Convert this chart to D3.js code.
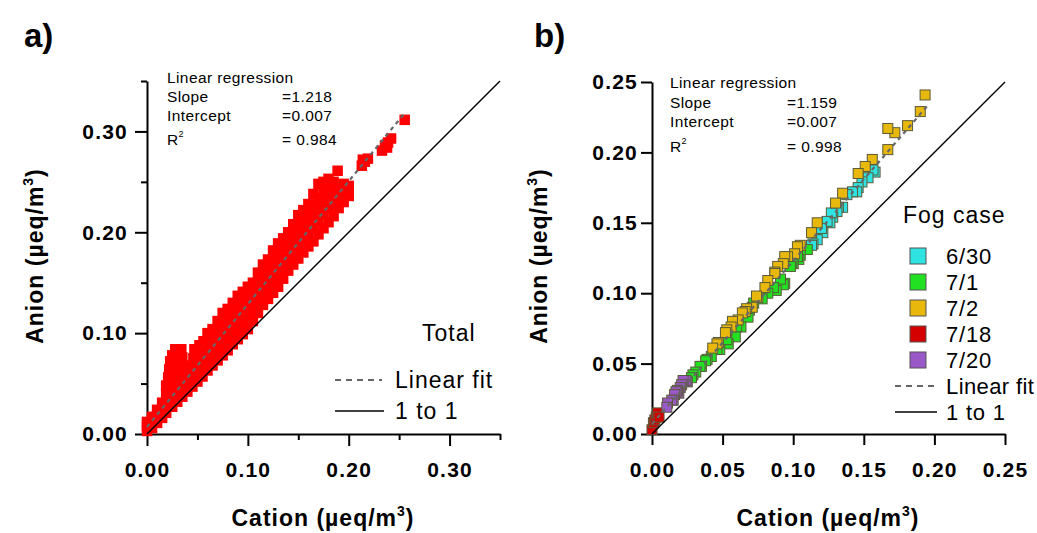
<!DOCTYPE html>
<html>
<head>
<meta charset="utf-8">
<script src="https://cdn.jsdelivr.net/npm/d3@7"></script>
<style>
  body { margin: 0; background: #fff; }
  svg  { display: block; font-family: "Liberation Sans", Arial, sans-serif; }
</style>
</head>
<body>
<script>
/* global d3 */

// ---- data ----
var totalPoints = [
  [0.000,0.003],[0.000,0.008],[0.000,0.012],
  [0.005,0.006],[0.005,0.012],[0.005,0.017],
  [0.010,0.011],[0.010,0.018],[0.010,0.024],
  [0.015,0.016],[0.015,0.024],[0.015,0.031],
  [0.019,0.021],[0.019,0.030],[0.019,0.040],[0.019,0.048],
  [0.021,0.056],[0.022,0.064],[0.023,0.072],[0.025,0.078],[0.028,0.084],[0.034,0.084],
  [0.025,0.027],[0.025,0.036],[0.025,0.046],[0.026,0.056],[0.027,0.066],
  [0.030,0.032],[0.030,0.042],[0.030,0.052],[0.031,0.062],[0.031,0.072],
  [0.035,0.037],[0.035,0.047],[0.035,0.057],[0.035,0.066],[0.035,0.076],
  [0.040,0.042],[0.040,0.051],[0.040,0.060],[0.040,0.068],
  [0.045,0.047],[0.045,0.056],[0.045,0.065],[0.046,0.075],[0.047,0.084],
  [0.050,0.052],[0.050,0.061],[0.050,0.070],[0.050,0.079],[0.052,0.088],
  [0.055,0.057],[0.055,0.066],[0.055,0.075],[0.055,0.084],[0.056,0.092],
  [0.060,0.063],[0.060,0.072],[0.060,0.081],[0.060,0.090],[0.060,0.100],
  [0.065,0.068],[0.065,0.077],[0.065,0.086],[0.065,0.095],[0.065,0.104],
  [0.070,0.073],[0.070,0.082],[0.070,0.092],[0.070,0.102],[0.070,0.112],
  [0.075,0.078],[0.075,0.088],[0.075,0.098],[0.075,0.108],[0.075,0.120],
  [0.080,0.083],[0.080,0.094],[0.080,0.104],[0.080,0.114],[0.080,0.124],
  [0.085,0.089],[0.085,0.100],[0.085,0.110],[0.085,0.120],[0.085,0.130],
  [0.090,0.094],[0.090,0.105],[0.090,0.116],[0.090,0.126],[0.090,0.137],
  [0.095,0.099],[0.095,0.110],[0.095,0.122],[0.095,0.132],[0.095,0.141],
  [0.100,0.104],[0.100,0.116],[0.100,0.128],[0.100,0.138],[0.100,0.146],
  [0.105,0.112],[0.105,0.124],[0.105,0.134],[0.105,0.144],[0.105,0.150],
  [0.110,0.120],[0.110,0.130],[0.110,0.140],[0.110,0.150],[0.110,0.160],
  [0.115,0.128],[0.115,0.137],[0.115,0.147],[0.115,0.157],[0.115,0.168],
  [0.120,0.134],[0.120,0.143],[0.120,0.153],[0.120,0.163],[0.120,0.173],
  [0.125,0.140],[0.125,0.150],[0.125,0.160],[0.125,0.170],[0.125,0.182],
  [0.130,0.146],[0.130,0.156],[0.130,0.166],[0.130,0.176],[0.130,0.189],
  [0.135,0.154],[0.135,0.164],[0.135,0.174],[0.135,0.184],[0.135,0.194],
  [0.140,0.162],[0.140,0.172],[0.140,0.184],[0.140,0.194],[0.140,0.200],
  [0.145,0.168],[0.145,0.180],[0.145,0.190],[0.145,0.200],[0.145,0.208],
  [0.150,0.174],[0.150,0.186],[0.150,0.196],[0.150,0.206],[0.150,0.217],
  [0.155,0.180],[0.155,0.191],[0.155,0.201],[0.155,0.211],[0.155,0.222],
  [0.160,0.186],[0.160,0.198],[0.160,0.208],[0.160,0.218],[0.160,0.228],
  [0.165,0.191],[0.165,0.204],[0.165,0.216],[0.165,0.226],[0.165,0.238],
  [0.170,0.198],[0.170,0.211],[0.170,0.223],[0.170,0.233],[0.170,0.248],
  [0.175,0.204],[0.175,0.218],[0.175,0.230],[0.175,0.240],[0.175,0.250],
  [0.180,0.210],[0.180,0.224],[0.180,0.236],[0.180,0.246],[0.180,0.253],
  [0.185,0.216],[0.185,0.228],[0.185,0.240],[0.185,0.250],
  [0.189,0.261],
  [0.190,0.224],[0.190,0.234],[0.190,0.244],
  [0.195,0.230],[0.195,0.240],[0.195,0.248],
  [0.200,0.236],[0.200,0.246],
  [0.213,0.266],[0.214,0.272],[0.216,0.270],[0.219,0.273],
  [0.233,0.281],[0.236,0.286],[0.238,0.284],[0.239,0.289],[0.242,0.293],
  [0.2555,0.3115]
];

var fogCases   = ["6/30", "7/1", "7/2", "7/18", "7/20"];
var caseColors = ["#2fe3e3", "#22e022", "#e8b80c", "#d40000", "#9a58c8"];

var case630 = [
  [0.158,0.186],[0.1565,0.1875],[0.153,0.182],[0.1487,0.179],[0.146,0.175],[0.145,0.172],
  [0.142,0.172],[0.138,0.170],[0.135,0.161],[0.132,0.161],[0.131,0.158],[0.128,0.154],
  [0.127,0.157],[0.126,0.150],[0.124,0.151],[0.121,0.143],[0.120,0.146],[0.117,0.138],
  [0.114,0.135],[0.113,0.134]
];
var case71 = [
  [0.110,0.131],[0.105,0.127],[0.104,0.124],[0.103,0.126],[0.100,0.121],[0.099,0.121],
  [0.098,0.119],[0.094,0.107],[0.093,0.106],[0.091,0.110],[0.088,0.102],[0.086,0.104],
  [0.082,0.100],[0.078,0.096],[0.072,0.093],[0.069,0.088],[0.068,0.083],[0.063,0.076],
  [0.060,0.076],[0.059,0.069],[0.054,0.064],[0.053,0.067],[0.048,0.060],[0.046,0.060],
  [0.042,0.055],[0.039,0.053],[0.038,0.052],[0.035,0.048],[0.034,0.048],[0.031,0.044],
  [0.029,0.042],[0.028,0.040]
];
var case72 = [
  [0.1934,0.2408],[0.190,0.229],[0.181,0.219],[0.172,0.214],[0.167,0.217],[0.167,0.202],
  [0.156,0.195],[0.151,0.190],[0.146,0.185],[0.135,0.171],[0.130,0.164],[0.117,0.150],
  [0.113,0.143],[0.105,0.134],[0.103,0.133],[0.101,0.128],[0.096,0.126],[0.094,0.126],
  [0.093,0.121],[0.089,0.119],[0.087,0.115],[0.087,0.114],[0.082,0.109],[0.080,0.104],
  [0.075,0.097],[0.074,0.098],[0.071,0.090],[0.067,0.089],[0.066,0.087],[0.064,0.086],
  [0.061,0.081],[0.057,0.080],[0.056,0.076],[0.053,0.074],[0.052,0.072],[0.047,0.065],
  [0.046,0.064],[0.043,0.061]
];
var case718 = [
  [0.000,0.003],[0.001,0.008],[0.002,0.010],[0.003,0.012],[0.004,0.015],[0.005,0.012]
];
var case720 = [
  [0.025,0.037],[0.024,0.038],[0.022,0.038],[0.021,0.035],[0.020,0.033],[0.019,0.029],
  [0.018,0.031],[0.017,0.030],[0.016,0.028],[0.015,0.024],[0.014,0.024],[0.011,0.022],
  [0.0105,0.019]
];
var caseData = [case630, case71, case72, case718, case720];

var fitA = { slope: 1.218, intercept: 0.007, r2: "0.984", xmax: 0.256 };
var fitB = { slope: 1.159, intercept: 0.007, r2: "0.998", xmax: 0.196 };

var ticksA      = [0.00, 0.10, 0.20, 0.30];
var minorTicksA = [0.05, 0.15, 0.25, 0.35];
var ticksB      = [0.00, 0.05, 0.10, 0.15, 0.20, 0.25];

// ---- layout ----
var svg = d3.select("body").append("svg")
    .attr("width", 1037)
    .attr("height", 533);

var xA = d3.scaleLinear().domain([0, 0.35]).range([147, 500]);
var yA = d3.scaleLinear().domain([0, 0.35]).range([434, 81]);
var xB = d3.scaleLinear().domain([0, 0.25]).range([652, 1005]);
var yB = d3.scaleLinear().domain([0, 0.25]).range([434, 82]);

var fmt = d3.format(".2f");

var styleAxis = (g) => {
    g.selectAll("path.domain").attr("stroke", "#000").attr("stroke-width", 2);
    g.selectAll(".tick line").attr("stroke", "#000").attr("stroke-width", 2);
    g.selectAll(".tick text")
        .attr("fill", "#000")
        .style("font-family", "\"Liberation Sans\", Arial, sans-serif")
        .style("font-size", "21px")
        .style("font-weight", "bold")
        .style("letter-spacing", "1.2px");
};

var drawAxes = (xs, ys, major, minor, tick, ytPad, origin) => {
    var gx = svg.append("g").attr("transform", "translate(0," + origin[1] + ")")
        .call(d3.axisBottom(xs).tickValues(major).tickSize(tick).tickSizeOuter(0).tickFormat(fmt));
    gx.selectAll(".tick text").attr("y", 43).attr("dy", 0);
    styleAxis(gx);
    var gy = svg.append("g").attr("transform", "translate(" + origin[0] + ",0)")
        .call(d3.axisLeft(ys).tickValues(major).tickSize(tick).tickPadding(ytPad).tickSizeOuter(0).tickFormat(fmt));
    styleAxis(gy);
    if (minor) {
        var mx = svg.append("g").attr("transform", "translate(0," + origin[1] + ")")
            .call(d3.axisBottom(xs).tickValues(minor).tickSize(6).tickFormat(""));
        mx.select("path.domain").remove();
        styleAxis(mx);
        var my = svg.append("g").attr("transform", "translate(" + origin[0] + ",0)")
            .call(d3.axisLeft(ys).tickValues(minor).tickSize(6).tickFormat(""));
        my.select("path.domain").remove();
        styleAxis(my);
    }
};

drawAxes(xA, yA, ticksA, minorTicksA, 12, 7, [147, 434]);
drawAxes(xB, yB, ticksB, null, 11, 3, [652, 434]);

// ---- markers ----
var sq = 10.5;
svg.append("g").selectAll("rect")
    .data(totalPoints)
    .enter().append("rect")
    .attr("x", (d) => xA(d[0]) - sq / 2)
    .attr("y", (d) => yA(d[1]) - sq / 2)
    .attr("width", sq)
    .attr("height", sq)
    .attr("fill", "#ff0000");

var sqB = 10;
caseData.forEach((pts, k) => {
    svg.append("g").selectAll("rect")
        .data(pts)
        .enter().append("rect")
        .attr("x", (d) => xB(d[0]) - sqB / 2)
        .attr("y", (d) => yB(d[1]) - sqB / 2)
        .attr("width", sqB)
        .attr("height", sqB)
        .attr("fill", caseColors[k])
        .attr("stroke", "#5a5a3a")
        .attr("stroke-width", 1);
});

// ---- lines ----
var drawLines = (xs, ys, fit, dmax) => {
    var line = d3.line().x((d) => xs(d[0])).y((d) => ys(d[1]));
    svg.append("path")
        .attr("d", line([[0, fit.intercept], [fit.xmax, fit.intercept + fit.slope * fit.xmax]]))
        .attr("fill", "none")
        .attr("stroke", "#666")
        .attr("stroke-width", 2.2)
        .attr("stroke-dasharray", "4,4");
    svg.append("path")
        .attr("d", line([[0, 0], [dmax, dmax]]))
        .attr("fill", "none")
        .attr("stroke", "#000")
        .attr("stroke-width", 1.4);
};
drawLines(xA, yA, fitA, 0.35);
drawLines(xB, yB, fitB, 0.25);

// ---- text ----
var txt = (x, y, s, size, weight, ls) => svg.append("text")
    .attr("x", x).attr("y", y)
    .style("font-size", size + "px")
    .style("font-weight", weight || "normal")
    .style("letter-spacing", (ls || 0) + "px")
    .text(s);

txt(24, 47, "a)", 33, "bold");
txt(534, 47, "b)", 33, "bold");

var statsBlock = (x0, x1, ys, fit, slopeTxt) => {
    txt(x0, ys[0], "Linear regression", 15.5, "normal", 0.4);
    txt(x0, ys[1], "Slope", 15.5, "normal", 0.4);
    txt(x0, ys[2], "Intercept", 15.5, "normal", 0.4);
    var r = txt(x0, ys[3], "R", 15.5, "normal", 0.4);
    r.append("tspan").attr("dy", -8).style("font-size", "9px").text("2");
    txt(x1, ys[1], "=" + slopeTxt, 15.5, "normal", 0.4);
    txt(x1, ys[2], "=" + fit.intercept.toFixed(3), 15.5, "normal", 0.4);
    txt(x1, ys[3], "= " + fit.r2, 15.5, "normal", 0.4);
};
statsBlock(167, 282, [83, 102, 121, 145], fitA, "1.218");
statsBlock(670, 787, [88, 108, 127, 152], fitB, "1.159");

// axis titles
var unitTitle = (x, y, label, rot) => {
    var t = svg.append("text")
        .attr("text-anchor", "middle")
        .attr("transform", "translate(" + x + "," + y + ")" + (rot ? " rotate(-90)" : ""))
        .style("font-size", "23px")
        .style("font-weight", "bold")
        .style("letter-spacing", "1px");
    t.append("tspan").text(label + " (\u00b5eq/m");
    t.append("tspan").attr("dy", -10).style("font-size", "14px").text("3");
    t.append("tspan").attr("dy", 10).text(")");
};
unitTitle(323, 526, "Cation", false);
unitTitle(828, 526, "Cation", false);
unitTitle(43, 256, "Anion", true);
unitTitle(547, 256, "Anion", true);

// legend a
txt(422, 341, "Total", 23, "normal", 1);
svg.append("line").attr("x1", 335).attr("x2", 382).attr("y1", 380).attr("y2", 380)
    .attr("stroke", "#666").attr("stroke-width", 2).attr("stroke-dasharray", "6,5");
txt(395, 388, "Linear fit", 23, "normal", 1);
svg.append("line").attr("x1", 335).attr("x2", 384).attr("y1", 411).attr("y2", 411)
    .attr("stroke", "#000").attr("stroke-width", 1.4);
txt(395, 419, "1 to 1", 23, "normal", 1);

// legend b
txt(903, 223, "Fog case", 23, "normal", 1);
var rowY = d3.scalePoint().domain(d3.range(7)).range([256, 412]);
fogCases.forEach((c, k) => {
    svg.append("rect")
        .attr("x", 910).attr("y", rowY(k) - 8)
        .attr("width", 16).attr("height", 16)
        .attr("fill", caseColors[k])
        .attr("stroke", "#555").attr("stroke-width", 1);
    txt(946, rowY(k) + 8, c, 22, "normal", 0.8);
});
svg.append("line").attr("x1", 895).attr("x2", 937).attr("y1", rowY(5)).attr("y2", rowY(5))
    .attr("stroke", "#666").attr("stroke-width", 2).attr("stroke-dasharray", "6,5");
txt(946, rowY(5) + 8, "Linear fit", 22, "normal", 0.4);
svg.append("line").attr("x1", 895).attr("x2", 937).attr("y1", rowY(6)).attr("y2", rowY(6))
    .attr("stroke", "#000").attr("stroke-width", 1.4);
txt(946, rowY(6) + 8, "1 to 1", 22, "normal", 0.8);
</script>
</body>
</html>
